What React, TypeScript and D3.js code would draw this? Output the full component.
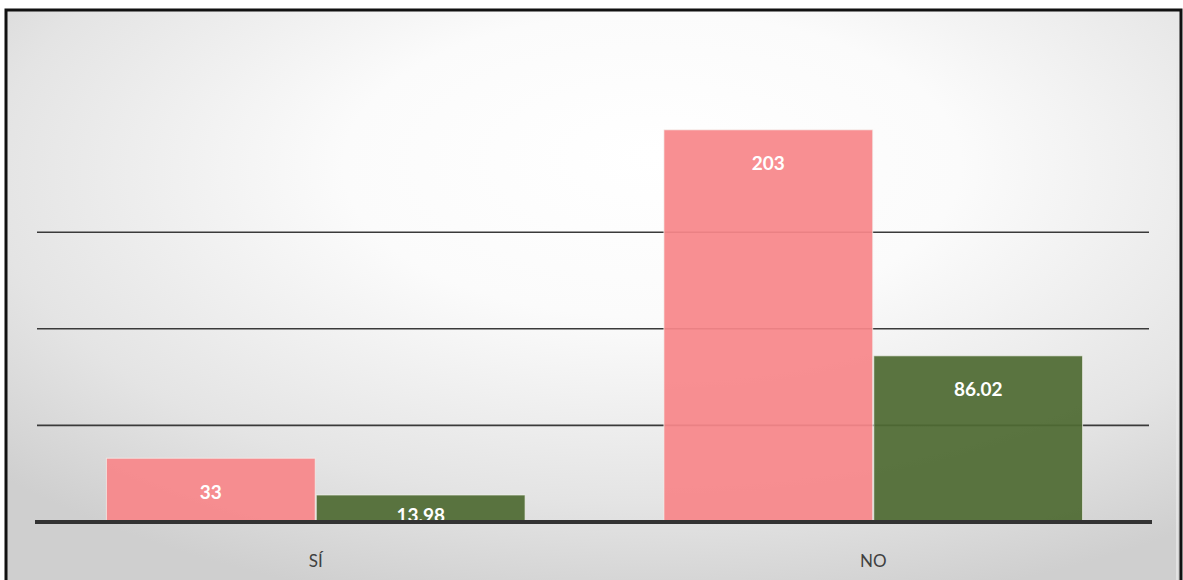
import React from "react";
import * as d3 from "d3";

const categories = ["SÍ", "NO"];
const seriesNames = ["Cantidad", "Porcentaje"];
const countValues = [33, 203];
const percentValues = [13.98, 86.02];
const gridTicks = [50, 100, 150];
const seriesColors = ["#F7868A", "#4F6B33"];

const W = 1183;
const H = 580;

export default function App() {
  const x0 = d3.scaleBand<string>().domain(categories).range([37, 1152]).paddingInner(0).paddingOuter(0);
  const x1 = d3
    .scaleBand<string>()
    .domain(seriesNames)
    .range([0, x0.bandwidth() * 0.751])
    .paddingInner(0.005);
  const groupOffset = (x0.bandwidth() - x0.bandwidth() * 0.751) / 2;
  const y = d3.scaleLinear().domain([0, 250]).range([522, 39]);
  const baseY = y(0);

  const rows = categories.map((c, i) => ({
    cat: c,
    vals: [countValues[i], percentValues[i]],
  }));

  return (
    <svg
      width={W}
      height={H}
      style={{ position: "absolute", left: 0, top: 0, display: "block" }}
      fontFamily="Lato, 'Open Sans', sans-serif"
    >
      <defs>
        <radialGradient id="bg" cx="0.55" cy="0.3" r="0.75" fx="0.55" fy="0.25">
          <stop offset="0" stopColor="#ffffff" />
          <stop offset="0.35" stopColor="#fbfbfb" />
          <stop offset="0.75" stopColor="#e4e4e4" />
          <stop offset="1" stopColor="#cfcfcf" />
        </radialGradient>
      </defs>
      <rect x={0} y={0} width={W} height={H} fill="#ffffff" />
      <rect x={6} y={10} width={1175} height={H} fill="url(#bg)" />
      {/* inner light frame */}
      <line x1={1177} x2={1177} y1={13} y2={H} stroke="#e8e8e8" strokeWidth={1.5} />
      {/* gridlines */}
      {gridTicks.map((t) => (
        <line key={t} x1={37} x2={1149} y1={y(t)} y2={y(t)} stroke="#3a3a3a" strokeWidth={1.6} />
      ))}
      {/* bars */}
      {rows.map((r) => (
        <g key={r.cat} transform={`translate(${(x0(r.cat) ?? 0) + groupOffset},0)`}>
          {r.vals.map((v, j) => (
            <rect
              key={j}
              x={x1(seriesNames[j])}
              y={y(v)}
              width={x1.bandwidth()}
              height={baseY - y(v)}
              fill={seriesColors[j]}
              fillOpacity={0.93}
              stroke="#f4f4f0"
              strokeOpacity={0.7}
              strokeWidth={1}
            />
          ))}
        </g>
      ))}
      {/* value labels */}
      {rows.map((r) => (
        <g key={r.cat + "l"} transform={`translate(${(x0(r.cat) ?? 0) + groupOffset},0)`}>
          {r.vals.map((v, j) => (
            <text
              key={j}
              x={(x1(seriesNames[j]) ?? 0) + x1.bandwidth() / 2}
              y={Math.min(y(v) + 33, baseY - 8)}
              textAnchor="middle"
              dominantBaseline="central"
              fill="#ffffff"
              fontWeight="bold"
              fontSize={19}
            >
              {v}
            </text>
          ))}
        </g>
      ))}
      {/* baseline */}
      <line x1={35} x2={1152} y1={baseY} y2={baseY} stroke="#333333" strokeWidth={4} />
      {/* category labels */}
      {categories.map((c) => (
        <text
          key={c}
          x={(x0(c) ?? 0) + x0.bandwidth() / 2}
          y={560}
          textAnchor="middle"
          dominantBaseline="central"
          fill="#404040"
          fontSize={17}
        >
          {c}
        </text>
      ))}
      {/* outer frame */}
      <path d={`M6,${H} V10 H1181 V${H}`} fill="none" stroke="#111111" strokeWidth={3} />
    </svg>
  );
}
